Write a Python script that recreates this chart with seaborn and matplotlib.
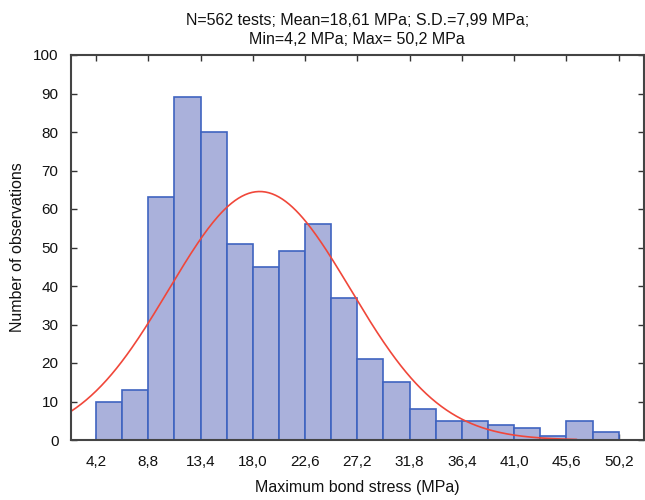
import numpy as np
import pandas as pd
import matplotlib
matplotlib.use("Agg")
import matplotlib.pyplot as plt
import seaborn as sns

# Data
bin_start = 4.2
bin_width = 2.3
counts = [10, 13, 63, 89, 80, 51, 45, 49, 56, 37, 21, 15, 8, 5, 5, 4, 3, 1, 5, 2]
tick_values = [4.2, 8.8, 13.4, 18.0, 22.6, 27.2, 31.8, 36.4, 41.0, 45.6, 50.2]
tick_labels = ["4,2", "8,8", "13,4", "18,0", "22,6", "27,2", "31,8", "36,4", "41,0", "45,6", "50,2"]
n_tests = 562
mean_val = 18.61
sd_val = 7.99
curve_range = (2.0, 46.5)

sns.set_theme(style="ticks")
plt.rcParams['font.family'] = ['Liberation Sans', 'DejaVu Sans']

edges = [float(bin_start + bin_width * i) for i in range(len(counts) + 1)]
centers = [(edges[i] + edges[i + 1]) / 2 for i in range(len(counts))]
df = pd.DataFrame({"x": centers, "w": counts})

fig = plt.figure(figsize=(6.45, 5.0), dpi=100)
ax = fig.add_axes([0.110, 0.12, 0.888, 0.77])

sns.histplot(data=df, x="x", weights="w", bins=edges, ax=ax,
             color="#aab1db", edgecolor="#3f63c0", linewidth=1.2, alpha=1.0)

# fitted normal curve (from stated N, mean, S.D.)
xs = np.linspace(curve_range[0], curve_range[1], 300)
ys = n_tests * bin_width * np.exp(-0.5 * ((xs - mean_val) / sd_val) ** 2) / (sd_val * np.sqrt(2 * np.pi))
sns.lineplot(x=xs, y=ys, ax=ax, color="#f0473a", linewidth=1.2)

ax.set_xlim(2.0, 52.4)
ax.set_ylim(0, 100)
ax.set_xticks(tick_values)
ax.set_xticklabels(tick_labels)
ax.set_yticks(np.arange(0, 101, 10))
ax.tick_params(direction="in", top=True, right=True, length=4, width=1,
               labelsize=11, colors="#333333", labelcolor="#111111")
ax.tick_params(axis="y", pad=9)
ax.tick_params(axis="x", pad=11)
for s in ax.spines.values():
    s.set_visible(True)
    s.set_color("#444444")
    s.set_linewidth(1.5)

ax.set_xlabel("Maximum bond stress (MPa)", fontsize=11.5, labelpad=8, color="#111111")
ax.set_ylabel("Number of observations", fontsize=11.5, labelpad=6, color="#111111")
ax.set_title("N=562 tests; Mean=18,61 MPa; S.D.=7,99 MPa;\nMin=4,2 MPa; Max= 50,2 MPa",
             fontsize=11.5, color="#111111", pad=8, linespacing=1.35)

fig.savefig("out.png", dpi=100)
